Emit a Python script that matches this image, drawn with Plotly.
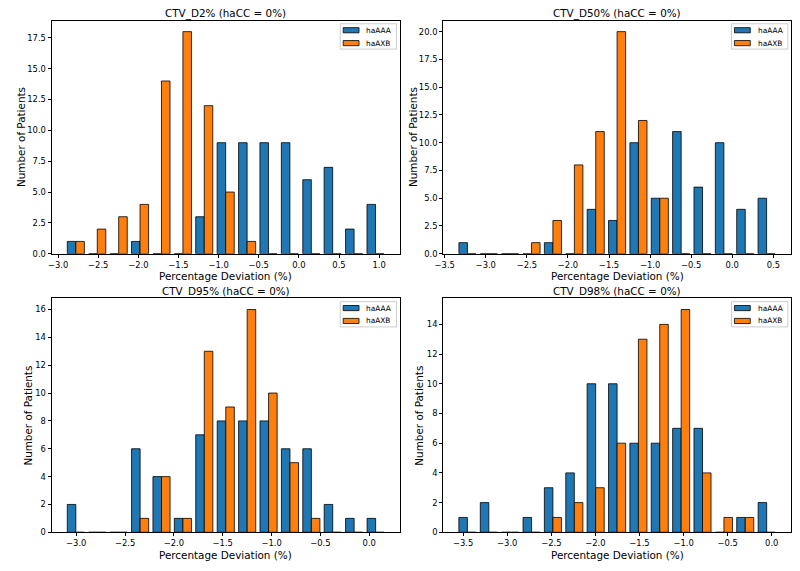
import plotly.graph_objects as go

# ---------------- data (bin centres and counts) ----------------
d2_bins = [-2.779, -2.512, -2.245, -1.979, -1.712, -1.445, -1.179, -0.912,
           -0.645, -0.379, -0.112, 0.155, 0.421, 0.688, 0.955]
d2_haAAA = [1, 0, 0, 1, 0, 0, 3, 9, 9, 9, 9, 6, 7, 2, 4]
d2_haAXB = [1, 2, 3, 4, 14, 18, 12, 5, 1, 0, 0, 0, 0, 0, 0]

d50_bins = [-3.223, -2.963, -2.703, -2.443, -2.183, -1.922, -1.662, -1.402,
            -1.142, -0.882, -0.622, -0.362, -0.102, 0.158, 0.418]
d50_haAAA = [1, 0, 0, 0, 1, 0, 4, 3, 10, 5, 11, 6, 10, 4, 5]
d50_haAXB = [0, 0, 0, 1, 3, 8, 11, 20, 12, 5, 0, 0, 0, 0, 0]

d95_bins = [-3.004, -2.784, -2.565, -2.346, -2.127, -1.908, -1.689, -1.469,
            -1.250, -1.031, -0.812, -0.593, -0.374, -0.155, 0.065]
d95_haAAA = [2, 0, 0, 6, 4, 1, 7, 8, 8, 8, 6, 6, 2, 1, 1]
d95_haAXB = [0, 0, 0, 1, 4, 1, 13, 9, 16, 10, 5, 1, 0, 0, 0]

d98_bins = [-3.452, -3.209, -2.967, -2.724, -2.482, -2.239, -1.997, -1.754,
            -1.512, -1.270, -1.027, -0.785, -0.542, -0.300, -0.057]
d98_haAAA = [1, 2, 0, 1, 3, 4, 10, 10, 6, 6, 7, 7, 0, 1, 2]
d98_haAXB = [0, 0, 0, 0, 1, 2, 3, 6, 13, 14, 15, 4, 1, 1, 0]

titles = ["CTV_D2% (haCC = 0%)", "CTV_D50% (haCC = 0%)",
          "CTV_D95% (haCC = 0%)", "CTV_D98% (haCC = 0%)"]
series_names = ["haAAA", "haAXB"]
x_label = "Percentage Deviation (%)"
y_label = "Number of Patients"

# ---------------- styling / layout ----------------
W, H = 800, 571
COLORS = ["#1f77b4", "#ff7f0e"]
FONT = "DejaVu Sans"
TICK_SIZE = 8.4
LABEL_SIZE = 10.4
LEGEND_SIZE = 7.4

panels = [
    dict(bins=d2_bins, a=d2_haAAA, b=d2_haAXB, xr=[-3.082, 1.258], yr=[0, 18.9],
         ydt=2.5, yfmt=".1f", xd=[43, 395.3], yd=[20.7, 256], ylx=12),
    dict(bins=d50_bins, a=d50_haAAA, b=d50_haAXB, xr=[-3.520, 0.716], yr=[0, 21.0],
         ydt=2.5, yfmt=".1f", xd=[439, 791], yd=[20.7, 256], ylx=408.5),
    dict(bins=d95_bins, a=d95_haAAA, b=d95_haAXB, xr=[-3.253, 0.313], yr=[0, 16.8],
         ydt=2, yfmt="d", xd=[43, 395.3], yd=[301, 537], ylx=19.5),
    dict(bins=d98_bins, a=d98_haAAA, b=d98_haAXB, xr=[-3.728, 0.220], yr=[0, 15.75],
         ydt=2, yfmt="d", xd=[439, 791], yd=[301, 537], ylx=415),
]

fig = go.Figure()
annotations = []
shapes = []
layout = {}


def px(xp):
    return xp / W


def py(yp):
    return 1 - yp / H


for i, p in enumerate(panels, start=1):
    sfx = "" if i == 1 else str(i)
    xa, ya = "x" + sfx, "y" + sfx
    for name, vals, col, grp in [(series_names[0], p["a"], COLORS[0], "a"),
                                 (series_names[1], p["b"], COLORS[1], "b")]:
        fig.add_trace(go.Bar(
            x=p["bins"], y=vals, name=name, offsetgroup=grp,
            marker=dict(color=col, line=dict(color="black", width=0.8)),
            xaxis=xa, yaxis=ya, showlegend=False,
        ))
    xdom = [px(p["xd"][0]), px(p["xd"][1])]
    ydom = [py(p["yd"][1]), py(p["yd"][0])]
    common = dict(showline=True, linecolor="black", linewidth=0.8, mirror=True,
                  ticks="outside", ticklen=3, tickwidth=0.8, tickcolor="black",
                  showgrid=False, zeroline=False,
                  tickfont=dict(family=FONT, size=TICK_SIZE, color="black"))
    layout["xaxis" + sfx] = dict(domain=xdom, anchor=ya, range=p["xr"],
                                 dtick=0.5, tick0=0, tickformat=".1f", **common)
    layout["yaxis" + sfx] = dict(domain=ydom, anchor=xa, range=p["yr"],
                                 dtick=p["ydt"], tick0=0, tickformat=p["yfmt"], **common)
    cx = (p["xd"][0] + p["xd"][1]) / 2 / W
    # panel title
    annotations.append(dict(text=titles[i - 1], x=cx, y=py(p["yd"][0] - 7),
                            xref="paper", yref="paper", showarrow=False,
                            xanchor="center", yanchor="middle",
                            font=dict(family=FONT, size=LABEL_SIZE, color="black")))
    # x label
    annotations.append(dict(text=x_label, x=cx, y=py(p["yd"][1] + 22.5),
                            xref="paper", yref="paper", showarrow=False,
                            xanchor="center", yanchor="middle",
                            font=dict(family=FONT, size=LABEL_SIZE, color="black")))
    # y label
    annotations.append(dict(text=y_label, x=px(p["ylx"]),
                            y=py((p["yd"][0] + p["yd"][1]) / 2),
                            xref="paper", yref="paper", showarrow=False, textangle=-90,
                            xanchor="center", yanchor="middle",
                            font=dict(family=FONT, size=LABEL_SIZE, color="black")))
    # legend (matplotlib-style box in the upper right corner)
    bx1 = p["xd"][1] - 3.3
    bx0 = bx1 - 57
    by0 = p["yd"][0] + 3.3
    by1 = by0 + 25.5
    shapes.append(dict(type="rect", xref="paper", yref="paper",
                       x0=px(bx0), x1=px(bx1), y0=py(by1), y1=py(by0),
                       line=dict(color="#cccccc", width=1),
                       fillcolor="rgba(255,255,255,0.8)", layer="above"))
    for k, (name, col) in enumerate(zip(series_names, COLORS)):
        rc = by0 + 6.5 + k * 13
        shapes.append(dict(type="rect", xref="paper", yref="paper",
                           x0=px(bx0 + 3), x1=px(bx0 + 19),
                           y0=py(rc + 2.6), y1=py(rc - 2.6),
                           line=dict(color="black", width=0.8),
                           fillcolor=col, layer="above"))
        annotations.append(dict(text=name, x=px(bx0 + 24.5), y=py(rc),
                                xref="paper", yref="paper", showarrow=False,
                                xanchor="left", yanchor="middle",
                                font=dict(family=FONT, size=LEGEND_SIZE, color="black")))

fig.update_layout(
    width=W, height=H, margin=dict(l=0, r=0, t=0, b=0),
    paper_bgcolor="white", plot_bgcolor="white",
    barmode="group", bargap=0.2, bargroupgap=0, showlegend=False,
    annotations=annotations, shapes=shapes, font=dict(family=FONT, color="black"),
    **layout,
)

fig.write_html("out.html")
